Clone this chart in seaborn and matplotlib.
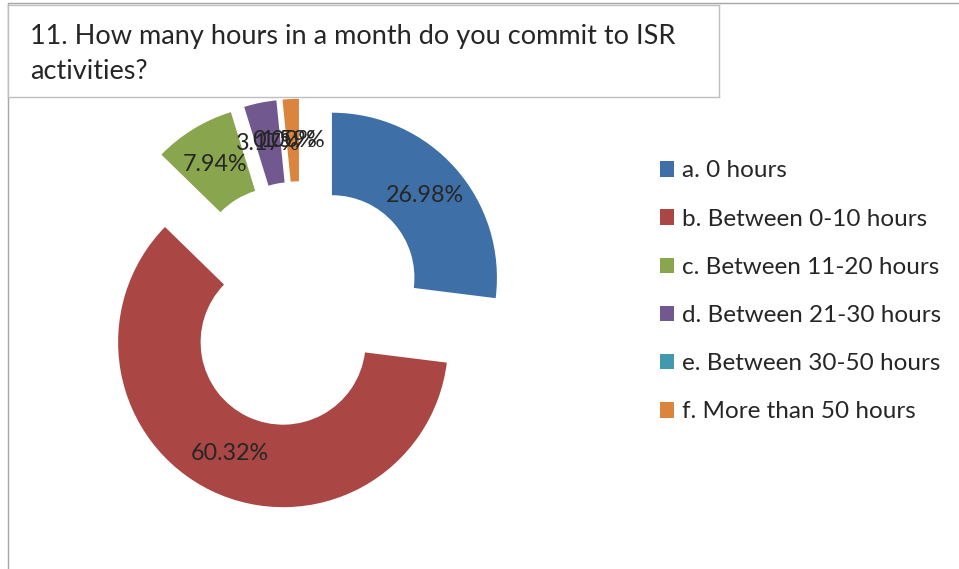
import matplotlib
matplotlib.use("Agg")
import matplotlib.pyplot as plt
from matplotlib.lines import Line2D
from matplotlib.patches import Patch
import seaborn as sns

# ---- data ----
categories = [
    "a. 0 hours",
    "b. Between 0-10 hours",
    "c. Between 11-20 hours",
    "d. Between 21-30 hours",
    "e. Between 30-50 hours",
    "f. More than 50 hours",
]
shares = [26.98, 60.32, 7.94, 3.17, 0.00, 1.59]
colors = ["#3E6FA6", "#AA4643", "#89A54E", "#71588F", "#4198AF", "#DB843D"]
title = "11. How many hours in a month do you commit to ISR\nactivities?"

sns.set_style("white")
plt.rcParams["font.family"] = ["Lato", "DejaVu Sans"]

W, H = 959, 569
fig = plt.figure(figsize=(W / 100, H / 100), dpi=100)

# pie axes: centre (301, 305) px, radius 165 px
cx, cy, R = 301, 305, 165
half = 1.5 * R
ax = fig.add_axes([(cx - half) / W, (H - cy - half) / H, 2 * half / W, 2 * half / H])
wedges, texts, autotexts = ax.pie(
    shares,
    colors=sns.color_palette(colors),
    startangle=90,
    counterclock=False,
    radius=1,
    explode=[0.25] * len(shares),
    autopct="%.2f%%",
    pctdistance=0.75,
    wedgeprops=dict(width=0.5, linewidth=0),
    textprops=dict(color="#262626", fontsize=16.8),
)
ax.set_xlim(-1.5, 1.5)
ax.set_ylim(-1.5, 1.5)
ax.set_aspect("equal")
ax.axis("off")

# legend
handles = [Patch(facecolor=c, edgecolor="none") for c in colors]
fig.legend(
    handles, categories,
    loc="upper left",
    bbox_to_anchor=(638 / W, 1 - 138.5 / H),
    frameon=False,
    fontsize=17.5,
    handlelength=0.6,
    handleheight=0.6,
    handletextpad=0.3,
    labelspacing=1.12,
    labelcolor="#262626",
)

# outer chart frame
fig.add_artist(Line2D([8 / W, 8 / W], [0, 1 - 3 / H], color="#A6A6A6", lw=1))
fig.add_artist(Line2D([8 / W, 1], [1 - 3 / H, 1 - 3 / H], color="#A6A6A6", lw=1))

# title box
tax = fig.add_axes([8 / W, 1 - 97 / H, (719 - 8) / W, (97 - 5) / H], zorder=5)
tax.set_facecolor("white")
tax.set_xticks([])
tax.set_yticks([])
for s in tax.spines.values():
    s.set_color("#BFBFBF")
    s.set_linewidth(1)
tax.text(22 / 711, 0.47, title, ha="left", va="center", fontsize=19.5,
         color="#262626", linespacing=1.5, transform=tax.transAxes)

fig.savefig("out.png", dpi=100)
